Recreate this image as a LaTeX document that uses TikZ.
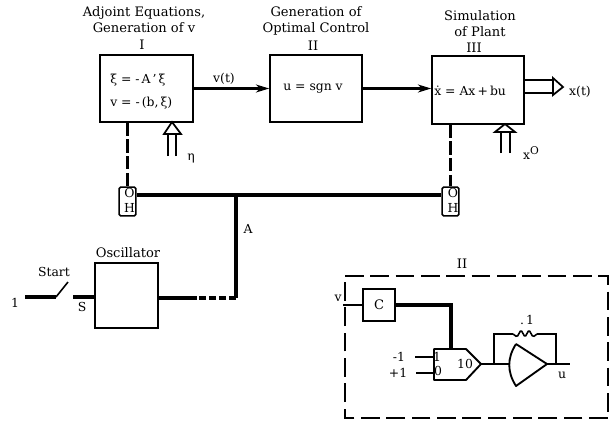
\documentclass[tikz,border=0pt]{standalone}
\usepackage{fontspec}
\setmainfont{DejaVu Serif}
\usetikzlibrary{arrows.meta,calc}
\tikzset{
  x=0.75pt,y=-0.75pt,
  block/.style n args={2}{draw,line width=1.2pt,minimum width=#1*0.75pt,minimum height=#2*0.75pt,inner sep=0pt},
  lab/.style={font=\fontsize{9.8}{12}\selectfont,inner sep=0pt,align=center},
  small/.style={font=\fontsize{9.3}{11}\selectfont,inner sep=0pt},
  sig/.style={line width=1.2pt},
  busline/.style={line width=3pt},
  flow/.style={line width=1.6pt,-{Stealth[length=10pt,width=6pt]}},
  link/.style={line width=1.7pt,dash pattern=on 10pt off 2.5pt},
  frame/.style={line width=1.3pt,dash pattern=on 14pt off 5pt},
  hold/.style={draw,line width=1.2pt,rounded corners=1pt,minimum width=12.5pt,minimum height=21.5pt,inner sep=0pt},
  hollow/.style={line width=1.3pt,fill=white,line join=miter},
}
\begin{document}
\begin{tikzpicture}
\useasboundingbox (0,0) rectangle (610,421);
% blocks
\node[block={93}{67}] (b1) at (146.5,88.5) {};
\node[block={92}{67}] (b2) at (316,88.5) {};
\node[block={92}{68}] (b3) at (478,90) {};
\node[block={63}{65}] (osc) at (126.5,295.5) {};
\node[block={32}{32},font=\fontsize{9.8}{12}\selectfont] (c) at (379,305) {C};
\node[hold] (oh1) at (127.5,201.5) {};
\node[hold] (oh2) at (450.5,201.5) {};
\node[small] (ohO1) at (129.5,193) {O};
\node[small] (ohH1) at (129.5,208) {H};
\node[small] (ohO2) at (453,193) {O};
\node[small] (ohH2) at (453,208) {H};
% titles
\node[lab] (t1) at (144,20) {Adjoint Equations,\\Generation of v};
\node[lab] (t1b) at (142,45) {I};
\node[lab] (t2) at (316,21) {Generation of\\Optimal Control};
\node[lab] (t2b) at (313,46) {II};
\node[lab] (t3) at (480,24) {Simulation\\of Plant};
\node[lab] (t3b) at (474,48) {III};
% equations
\node[small,anchor=west] (e1) at (110,80) {ξ\ =\ -\,A\,'\,ξ};
\node[small,anchor=west] (e2) at (110,103) {v\ =\ -\,(b,\,ξ)};
\node[small] (e3) at (313,89) {u\ =\ sgn v};
\node[small,anchor=west] (e4) at (434,91) {\.x\ =\ Ax\,+\,bu};
\node[small] (vt) at (224,79) {v(t)};
\node[small] (xt) at (580,92) {x(t)};
\node[small] (eta) at (191,158) {η};
\node[small] (x0) at (531,153) {x\raisebox{3.5pt}{\fontsize{8}{9}\selectfont O}};
\node[small] (a) at (248,229) {A};
\node[small] (one) at (15,303) {1};
\node[small] (start) at (54,272) {Start};
\node[small] (s) at (82,307) {S};
\node[lab] (osct) at (128,253) {Oscillator};
% flows
\draw[flow] (b1.east) -- (b2.west);
\draw[flow] (b2.east) -- (b3.west |- b2.east);
% output double arrow
\coordinate (o1) at (524,80);
\coordinate (o2) at (524,93);
\coordinate (otip) at (563,87);
\draw[sig] (o1) -- (553,80) (o2) -- (553,93);
\draw[hollow] (553,78) -- (otip) -- (553,95) -- cycle;
% eta arrow
\draw[sig] (168,156) -- (168,133) (176,156) -- (176,133);
\draw[hollow] (172,122) -- (181,134) -- (164,134) -- cycle;
% x0 arrow
\draw[sig] (501,153) -- (501,131) (510,153) -- (510,131);
\draw[hollow] (505,124) -- (515,132) -- (495,132) -- cycle;
% dashed links
\draw[link] (b1.south -| oh1.north) -- (oh1.north);
\draw[link] (b3.south -| oh2.north) -- (oh2.north);
% heavy bus
\coordinate (j) at (236,195);
\coordinate (k) at (236,298);
\coordinate (dd) at (197,298);
\draw[busline] (oh1.east |- j) -- (oh2.west |- j);
\draw[busline] (j) -- (k);
\draw[busline,dash pattern=on 5pt off 2.5pt] (k) -- (dd);
\draw[busline] (dd) -- (osc.east |- dd);
% switch
\coordinate (s1) at (25,297);
\coordinate (s2) at (56,297);
\coordinate (s3) at (68,282);
\coordinate (s4) at (73,297);
\draw[busline] (s1) -- (s2);
\draw[sig] (s2) -- (s3);
\draw[busline] (s4) -- (osc.west |- s4);
% detail II
\node[lab] (iit) at (462,264) {II};
\draw[frame] (345,276) -- (608,276) -- (608,418) -- (345,418) -- cycle;
\node[small] (vin) at (338,298) {v};
\coordinate (vs) at (343,305);
\draw[sig] (vs) -- (c.west);
\coordinate (cc) at (451,305);
\coordinate (cd) at (451,349);
\draw[line width=3pt] (c.east) -- (cc) -- (cd);
\draw[line width=1.4pt,line join=round] (434,349) -- (466,349) -- (481,364) -- (466,380) -- (434,380) -- cycle;
\node[small] (ten) at (465,364) {10};
\node[small] (n1) at (437,357) {1};
\node[small] (n0) at (438,371) {0};
\node[small] (m1) at (399,357) {-1};
\node[small] (p1) at (398,373) {+1};
\draw[sig] (415,357) -- (434,357);
\draw[sig] (416,373) -- (434,373);
\coordinate (amp1) at (516,344);
\coordinate (amp2) at (516,386);
\coordinate (amptip) at (547,364);
\draw[line width=1.4pt,line join=round] (amp1) -- (amptip) -- (amp2) .. controls (507,372) and (507,358) .. (amp1);
\draw[sig] (481,364) -- (509,364);
\draw[sig] (amptip) -- (570,364);
\draw[sig] (494,364) -- (494,334) -- (513,334);
\draw[sig,rounded corners=1pt] (513,334) -- (517,337) -- (521,330) -- (525,337) -- (529,330) -- (533,337) -- (537,334);
\draw[sig] (537,334) -- (556,334) -- (556,364);
\node[small] (rv) at (527,320) {.\,1};
\node[small] (uo) at (562,375) {u};
\end{tikzpicture}
\end{document}
